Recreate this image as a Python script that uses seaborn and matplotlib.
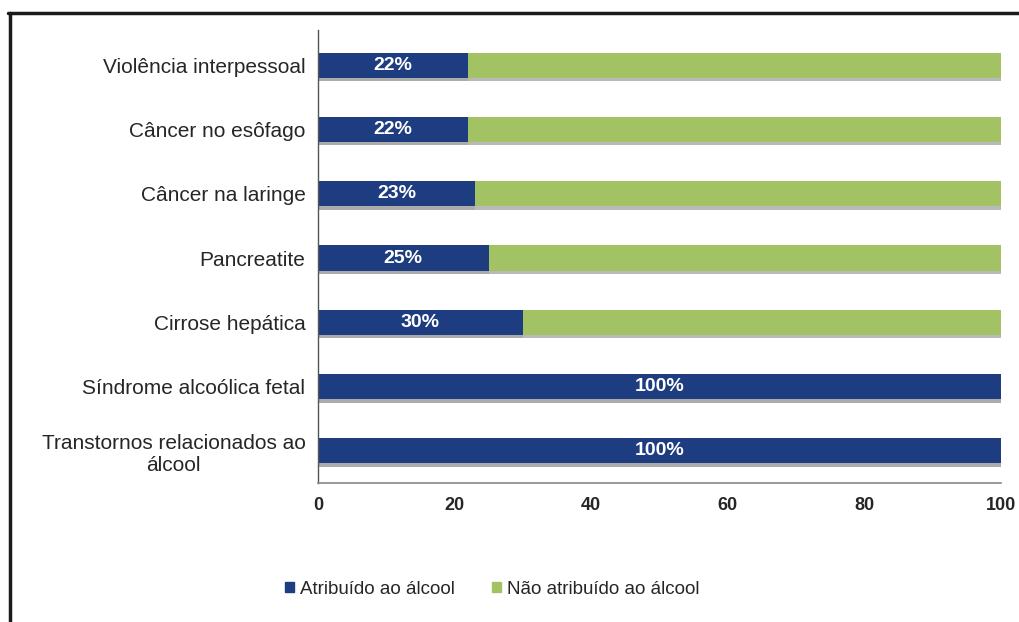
import matplotlib
matplotlib.use("Agg")
import matplotlib.pyplot as plt
import seaborn as sns
import pandas as pd
import numpy as np
from matplotlib.lines import Line2D
from matplotlib.patches import Patch
import matplotlib.patheffects as pe

categories = ["Violência interpessoal", "Câncer no esôfago", "Câncer na laringe",
              "Pancreatite", "Cirrose hepática", "Síndrome alcoólica fetal",
              "Transtornos relacionados ao\nálcool"]
atribuido = [22, 22, 23, 25, 30, 100, 100]
nao_atribuido = [78, 78, 77, 75, 70, 0, 0]
series_names = ["Atribuído ao álcool", "Não atribuído ao álcool"]
xticks = [0, 20, 40, 60, 80, 100]

BLUE = "#1e3d80"
GREEN = "#a3c263"

sns.set_theme(style="white")
plt.rcParams["font.family"] = ["Liberation Sans", "DejaVu Sans"]

df = pd.DataFrame({"cat": categories, "a": atribuido, "n": nao_atribuido})
df["total"] = df["a"] + df["n"]

fig = plt.figure(figsize=(10.19, 6.22), dpi=100)
ax = fig.add_axes([0.312, 0.2235, 0.670, 0.7285])

shadow = [pe.SimplePatchShadow(offset=(0, -2.5), shadow_rgbFace="#a8a8a8", alpha=0.8), pe.Normal()]
sns.barplot(data=df, y="cat", x="total", color=GREEN, saturation=1, width=0.39,
            ax=ax, orient="h", linewidth=0)
sns.barplot(data=df, y="cat", x="a", color=BLUE, saturation=1, width=0.39,
            ax=ax, orient="h", linewidth=0)
for p in ax.patches:
    p.set_path_effects(shadow)

for i, v in enumerate(atribuido):
    ax.text(v / 2, i, f"{v}%", color="white", fontsize=14, fontweight="bold",
            ha="center", va="center")

ax.set_xlim(0, 100)
ax.set_ylim(6.5, -0.55)
ax.set_xticks(xticks)
ax.set_xticklabels([str(t) for t in xticks], fontsize=13, fontweight="bold")
ax.tick_params(axis="x", length=0, pad=10)
ax.tick_params(axis="y", length=0, pad=9)
for lbl in ax.get_yticklabels():
    lbl.set_fontsize(15)
    lbl.set_multialignment("center")
ax.set_xlabel("")
ax.set_ylabel("")
for s in ["top", "right"]:
    ax.spines[s].set_visible(False)
ax.spines["left"].set_color("#555555")
ax.spines["left"].set_linewidth(1.0)
ax.spines["bottom"].set_color("#888888")
ax.spines["bottom"].set_linewidth(1.2)

handles = [Patch(color=BLUE), Patch(color=GREEN)]
fig.legend(handles, series_names, loc="center", bbox_to_anchor=(0.483, 0.053),
           ncol=2, frameon=False, fontsize=13.5, handlelength=0.5, handleheight=0.5,
           handletextpad=0.3, columnspacing=2.0)

# outer frame lines (top and left)
fig.add_artist(Line2D([8 / 1019, 1], [1 - 13 / 622, 1 - 13 / 622], color="#1a1a1a", lw=2.5,
                      transform=fig.transFigure))
fig.add_artist(Line2D([10 / 1019, 10 / 1019], [0, 1 - 13 / 622], color="#1a1a1a", lw=2.5,
                      transform=fig.transFigure))

fig.savefig("out.png", dpi=100)
